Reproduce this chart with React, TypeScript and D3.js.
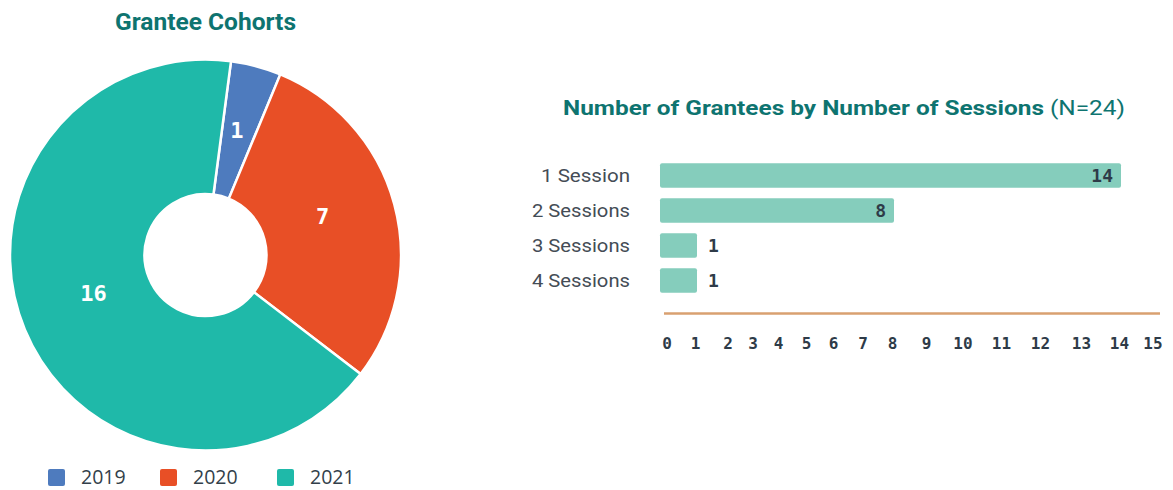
import React from "react";
import * as d3 from "d3";

const cohortYears = ["2019", "2020", "2021"];
const cohortCounts = [1, 7, 16];
const cohortColors = ["#4E7BBE", "#E84F26", "#1FB9A9"];

const sessionCategories = ["1 Session", "2 Sessions", "3 Sessions", "4 Sessions"];
const sessionCounts = [14, 8, 1, 1];
const axisTicks = [0, 1, 2, 3, 4, 5, 6, 7, 8, 9, 10, 11, 12, 13, 14, 15];
// the reference axis is unevenly spaced; these are its tick positions
const axisTickPositions = [660, 697, 729.5, 754.5, 780, 808, 835, 864.5, 894, 928, 964.5, 1003, 1042, 1083, 1121, 1154.5];

const W = 1173;
const H = 490;

export default function App() {
  const cx = 205.5, cy = 255, rOuter = 195.5, rInner = 61;
  const startOffset = (7.5 * Math.PI) / 180;
  const pie = d3
    .pie<number>()
    .sort(null)
    .startAngle(startOffset)
    .endAngle(startOffset + 2 * Math.PI)(cohortCounts);
  const arc = d3.arc<d3.PieArcDatum<number>>().innerRadius(rInner).outerRadius(rOuter);
  const labelArc = d3.arc<d3.PieArcDatum<number>>().innerRadius(rInner).outerRadius(rOuter - 14);

  const x = d3.scaleLinear().domain(axisTicks).range(axisTickPositions);
  const y = d3.scaleBand().domain(sessionCategories).range([158, 298]).paddingInner(0.3).paddingOuter(0.15);

  const titleFont = "Roboto, 'Liberation Sans', sans-serif";
  const numFont = "'DejaVu Sans Mono', 'Liberation Mono', monospace";

  return (
    <svg width={W} height={H} style={{ position: "absolute", left: 0, top: 0, background: "#fff" }}>
      <text x={115} y={30} textLength={181} lengthAdjust="spacingAndGlyphs" fill="#0E7470" fontFamily={titleFont} fontWeight="bold" fontSize={23}>
        Grantee Cohorts
      </text>
      <g transform={`translate(${cx},${cy})`}>
        {pie.map((d, i) => (
          <path key={i} d={arc(d) || ""} fill={cohortColors[i]} stroke="#fff" strokeWidth={2.5} />
        ))}
        {pie.map((d, i) => {
          const [px, py] = labelArc.centroid(d);
          return (
            <text key={"t" + i} x={px} y={py} textAnchor="middle" fill="#fff" fontFamily={numFont} fontWeight="bold" fontSize={22}>
              {cohortCounts[i]}
            </text>
          );
        })}
      </g>
      {cohortYears.map((yr, i) => {
        const lx = [48, 160, 277][i];
        return (
          <g key={yr}>
            <rect x={lx} y={469} width={17} height={17} rx={2} fill={cohortColors[i]} />
            <text x={lx + 33} y={484} fill="#333F4A" fontFamily="'Open Sans', sans-serif" fontSize={19.5}>
              {yr}
            </text>
          </g>
        );
      })}

      <text x={563} y={115} textLength={562} lengthAdjust="spacingAndGlyphs" fill="#0E7470" fontFamily={titleFont} fontSize={21}>
        <tspan fontWeight="bold">Number of Grantees by Number of Sessions </tspan>
        <tspan>(N=24)</tspan>
      </text>

      {sessionCategories.map((c, i) => {
        const by = y(c)!;
        const bh = y.bandwidth();
        const v = sessionCounts[i];
        const inside = v > 3;
        return (
          <g key={c}>
            <text
              x={630}
              y={by + bh / 2 + 6.5}
              textAnchor="end"
              fill="#444C55"
              fontFamily={titleFont}
              fontSize={19}
              textLength={c.length > 9 ? 98 : 89}
              lengthAdjust="spacingAndGlyphs"
            >
              {c}
            </text>
            <rect x={x(0)} y={by} width={x(v) - x(0)} height={bh} rx={2} fill="#85CDBC" />
            <text
              x={inside ? x(v) - 8 : x(v) + 11}
              y={by + bh / 2 + 6.5}
              textAnchor={inside ? "end" : "start"}
              fill="#2E3B48"
              fontFamily={numFont}
              fontWeight="bold"
              fontSize={18}
            >
              {v}
            </text>
          </g>
        );
      })}

      <line x1={664} x2={1160} y1={313.5} y2={313.5} stroke="#D9A070" strokeWidth={2.5} />
      {axisTicks.map((t) => (
        <text key={t} x={t === 0 ? x(0) + 7 : x(t) - 1.5} y={349} textAnchor="middle" fill="#2E3B48" fontFamily={numFont} fontWeight="bold" fontSize={16}>
          {t}
        </text>
      ))}
    </svg>
  );
}
